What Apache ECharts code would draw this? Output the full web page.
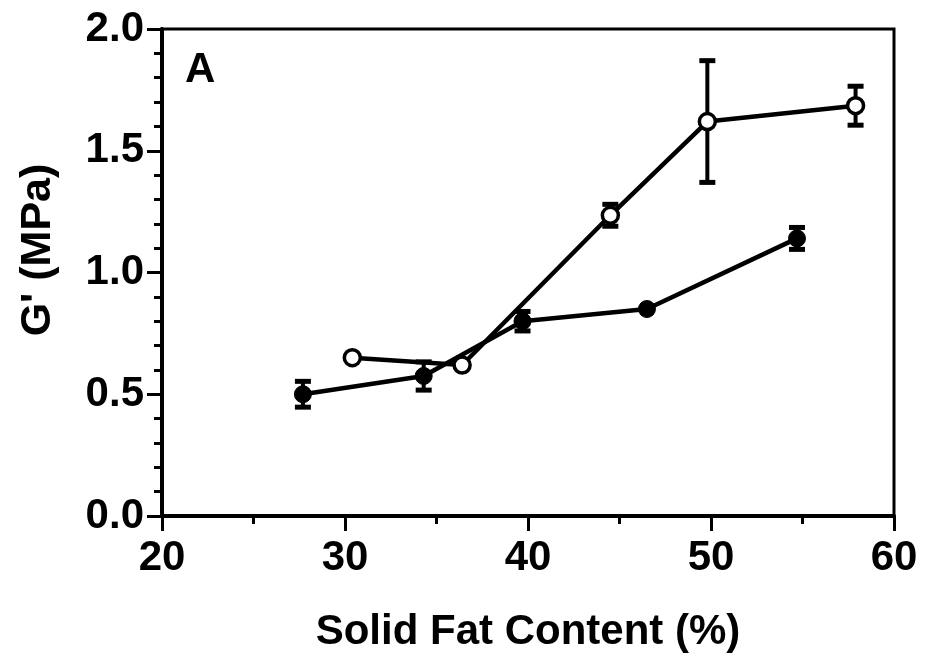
<!DOCTYPE html>
<html>
<head>
<meta charset="utf-8">
<script src="https://cdn.jsdelivr.net/npm/echarts@6/dist/echarts.min.js"></script>
<style>html,body{margin:0;padding:0;background:#fff;}#c{width:926px;height:661px;}</style>
</head>
<body>
<div id="c"></div>
<script>
// Open circles series
var openX = [30.4, 36.4, 44.5, 49.8, 57.9];
var openY = [0.65, 0.62, 1.235, 1.62, 1.685];
var openErr = [0, 0, 0.045, 0.25, 0.08];
// Filled circles series
var filledX = [27.7, 34.3, 39.7, 46.5, 54.7];
var filledY = [0.50, 0.575, 0.80, 0.85, 1.14];
var filledErr = [0.053, 0.058, 0.04, 0, 0.045];
// Axes
var xTicks = [20, 30, 40, 50, 60];
var yTicks = [0.0, 0.5, 1.0, 1.5, 2.0];
var xTitle = 'Solid Fat Content (%)';
var yTitle = "G' (MPa)";
var panelLabel = 'A';

function pairs(xs, ys) { return xs.map(function (x, i) { return [x, ys[i]]; }); }
function errData(xs, ys, es) {
  var out = [];
  xs.forEach(function (x, i) { if (es[i] > 0) out.push([x, ys[i] - es[i], ys[i] + es[i]]); });
  return out;
}
function errRender(params, api) {
  var x = api.value(0);
  var lo = api.coord([x, api.value(1)]);
  var hi = api.coord([x, api.value(2)]);
  var cap = 8;
  var st = { stroke: '#000', lineWidth: 4 };
  var capSt = { stroke: '#000', lineWidth: 5 };
  return {
    type: 'group',
    children: [
      { type: 'line', shape: { x1: lo[0], y1: lo[1], x2: hi[0], y2: hi[1] }, style: st },
      { type: 'line', shape: { x1: lo[0] - cap, y1: lo[1], x2: lo[0] + cap, y2: lo[1] }, style: capSt },
      { type: 'line', shape: { x1: hi[0] - cap, y1: hi[1], x2: hi[0] + cap, y2: hi[1] }, style: capSt }
    ]
  };
}

var font = 'Liberation Sans, Arial, sans-serif';
var chart = echarts.init(document.getElementById('c'), null, { renderer: 'canvas' });
chart.setOption({
  animation: false,
  backgroundColor: '#fff',
  grid: { left: 162, right: 32, top: 29, bottom: 145, show: true, borderColor: '#000', borderWidth: 3, backgroundColor: 'transparent' },
  xAxis: {
    type: 'value', min: xTicks[0], max: xTicks[xTicks.length - 1], interval: 10,
    name: xTitle, nameLocation: 'middle', nameGap: 95,
    nameTextStyle: { fontFamily: font, fontSize: 42, fontWeight: 'bold', color: '#000' },
    axisLine: { show: true, onZero: false, lineStyle: { color: '#000', width: 4 } },
    axisTick: { show: true, inside: false, length: 15, lineStyle: { color: '#000', width: 3 } },
    minorTick: { show: true, splitNumber: 2, length: 8, lineStyle: { color: '#000', width: 3 } },
    splitLine: { show: false },
    axisLabel: { fontFamily: font, fontSize: 42, fontWeight: 'bold', color: '#000', margin: 21 }
  },
  yAxis: {
    type: 'value', min: yTicks[0], max: yTicks[yTicks.length - 1], interval: 0.5,
    axisLine: { show: true, onZero: false, lineStyle: { color: '#000', width: 4 } },
    axisTick: { show: true, inside: false, length: 15, lineStyle: { color: '#000', width: 3 } },
    minorTick: { show: true, splitNumber: 5, length: 8, lineStyle: { color: '#000', width: 3 } },
    splitLine: { show: false },
    axisLabel: { fontFamily: font, fontSize: 42, fontWeight: 'bold', color: '#000', margin: 18, formatter: function (v) { return v.toFixed(1); } }
  },
  graphic: [
    { type: 'text', x: 38, y: 250, rotation: Math.PI / 2,
      style: { text: yTitle, fontFamily: font, fontSize: 43, fontWeight: 'bold', fill: '#000', align: 'center', verticalAlign: 'middle', textAlign: 'center', textVerticalAlign: 'middle', x: 0, y: 0 } },
    { type: 'text', x: 185, y: 49, style: { text: panelLabel, fontFamily: font, fontSize: 42, fontWeight: 'bold', fill: '#000' } }
  ],
  series: [
    { type: 'custom', renderItem: errRender, data: errData(openX, openY, openErr), encode: { x: 0, y: [1, 2] }, z: 1, silent: true },
    { type: 'custom', renderItem: errRender, data: errData(filledX, filledY, filledErr), encode: { x: 0, y: [1, 2] }, z: 1, silent: true },
    { type: 'line', data: pairs(openX, openY), symbol: 'circle', symbolSize: 16, z: 3,
      lineStyle: { color: '#000', width: 4.5 }, itemStyle: { color: '#fff', borderColor: '#000', borderWidth: 3.5 } },
    { type: 'line', data: pairs(filledX, filledY), symbol: 'circle', symbolSize: 17, z: 3,
      lineStyle: { color: '#000', width: 4.5 }, itemStyle: { color: '#000', borderColor: '#000', borderWidth: 1 } }
  ]
});
</script>
</body>
</html>
